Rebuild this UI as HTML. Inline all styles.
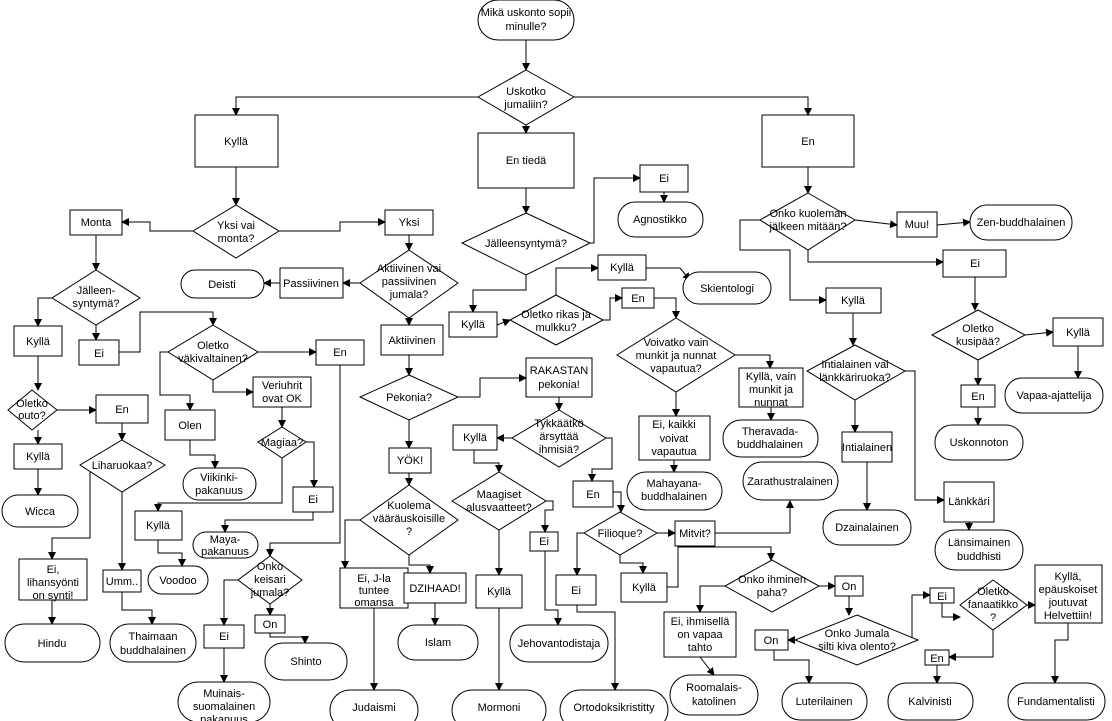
<!DOCTYPE html>
<html><head><meta charset="utf-8"><style>
html,body{margin:0;padding:0;background:#fff;}
svg{display:block;}
text{font-family:"Liberation Sans",Arial,sans-serif;font-size:11px;fill:#000;text-anchor:middle;}
.b{fill:#fff;stroke:#000;stroke-width:1;}
.l{fill:none;stroke:#000;stroke-width:1;marker-end:url(#a);}
</style></head><body>
<svg width="1112" height="721" viewBox="0 0 1112 721" xmlns="http://www.w3.org/2000/svg">
<defs><marker id="a" markerWidth="8" markerHeight="8" refX="7" refY="4" orient="auto" markerUnits="userSpaceOnUse"><path d="M0,0 L8,4 L0,8 z" fill="#000"/></marker></defs>

<!-- connectors -->
<g>
<polyline class="l" points="526,40 526,70"/>
<polyline class="l" points="478,97 236,97 236,115"/>
<polyline class="l" points="574,97 808,97 808,115"/>
<polyline class="l" points="526,125 526,133"/>
<polyline class="l" points="236,167 236,205"/>
<polyline class="l" points="193,231 150,231 150,222 122,222"/>
<polyline class="l" points="279,231 340,231 340,222 385,222"/>
<polyline class="l" points="96,235 96,270"/>
<polyline class="l" points="52,298 38,298 38,326"/>
<polyline class="l" points="96,325 96,340"/>
<polyline class="l" points="38,356 38,390"/>
<polyline class="l" points="119,352 140,352 140,312 213,312 213,325"/>
<polyline class="l" points="57,410 96,410"/>
<polyline class="l" points="38,430 38,444"/>
<polyline class="l" points="38,469 38,495"/>
<polyline class="l" points="122,423 122,440"/>
<polyline class="l" points="80,465 90,465 90,538 52,538 52,559"/>
<polyline class="l" points="122,492 122,570"/>
<polyline class="l" points="52,600 52,624"/>
<polyline class="l" points="122,592 122,610 152,610 152,624"/>
<polyline class="l" points="409,235 409,250"/>
<polyline class="l" points="360,283 343,283"/>
<polyline class="l" points="280,283 264,283"/>
<polyline class="l" points="409,318 409,325"/>
<polyline class="l" points="409,355 409,375"/>
<polyline class="l" points="458,397 480,397 480,378 526,378"/>
<polyline class="l" points="409,420 409,448"/>
<polyline class="l" points="409,473 409,485"/>
<polyline class="l" points="360,520 345,520 345,568"/>
<polyline class="l" points="409,555 409,565 430,565 430,573"/>
<polyline class="l" points="374,608 374,690"/>
<polyline class="l" points="435,603 435,625"/>
<polyline class="l" points="258,352 316,352"/>
<polyline class="l" points="168,352 160,352 160,395 190,395 190,410"/>
<polyline class="l" points="213,380 213,392 253,392"/>
<polyline class="l" points="340,365 340,543 270,543 270,556"/>
<polyline class="l" points="282,407 282,427"/>
<polyline class="l" points="306,442 314,442 314,487"/>
<polyline class="l" points="282,458 282,503 158,503 158,511"/>
<polyline class="l" points="190,440 190,455 215,455 215,468"/>
<polyline class="l" points="313,512 313,520 225,520 225,532"/>
<polyline class="l" points="158,540 158,553 182,553 182,566"/>
<polyline class="l" points="238,580 224,580 224,625"/>
<polyline class="l" points="270,604 270,615"/>
<polyline class="l" points="224,648 224,682"/>
<polyline class="l" points="270,633 270,637 305,637 305,643"/>
<polyline class="l" points="526,188 526,213"/>
<polyline class="l" points="590,243 594,243 594,178 640,178"/>
<polyline class="l" points="664,192 664,202"/>
<polyline class="l" points="526,275 526,290 473,290 473,312"/>
<polyline class="l" points="497,325 510,320"/>
<polyline class="l" points="556,295 556,268 598,268"/>
<polyline class="l" points="646,268 680,268 690,280"/>
<polyline class="l" points="603,320 610,320 610,298 622,298"/>
<polyline class="l" points="654,298 676,298 676,318"/>
<polyline class="l" points="735,355 770,355 770,368"/>
<polyline class="l" points="676,392 676,416"/>
<polyline class="l" points="771,407 771,420"/>
<polyline class="l" points="674,460 674,472"/>
<polyline class="l" points="559,397 559,410"/>
<polyline class="l" points="512,438 497,438"/>
<polyline class="l" points="474,450 474,463 499,463 499,472"/>
<polyline class="l" points="606,438 612,438 612,469 592,469 592,481"/>
<polyline class="l" points="546,501 553,501 553,510 545,510 545,532"/>
<polyline class="l" points="499,530 499,575"/>
<polyline class="l" points="545,551 545,610 558,610 558,625"/>
<polyline class="l" points="499,608 499,690"/>
<polyline class="l" points="613,492 621,492 621,512"/>
<polyline class="l" points="657,533 675,533"/>
<polyline class="l" points="584,533 577,533 577,575"/>
<polyline class="l" points="620,555 620,563 643,563 643,573"/>
<polyline class="l" points="577,605 577,612 615,612 615,690"/>
<polyline class="l" points="715,533 790,533 790,501"/>
<polyline class="l" points="667,587 678,587 678,547 771,547 771,560"/>
<polyline class="l" points="819,586 835,586"/>
<polyline class="l" points="725,586 700,586 700,612"/>
<polyline class="l" points="700,657 714,675"/>
<polyline class="l" points="849,595 849,615"/>
<polyline class="l" points="795,640 788,640"/>
<polyline class="l" points="774,650 774,660 809,660 809,683"/>
<polyline class="l" points="918,640 912,640 912,595 930,595"/>
<polyline class="l" points="942,603 942,617 960,617"/>
<polyline class="l" points="1027,605 1035,605"/>
<polyline class="l" points="993,630 993,657 949,657"/>
<polyline class="l" points="937,665 937,683"/>
<polyline class="l" points="1068,623 1068,640 1055,640 1055,683"/>
<polyline class="l" points="808,167 808,193"/>
<polyline class="l" points="855,220 897,225"/>
<polyline class="l" points="937,225 970,222"/>
<polyline class="l" points="808,250 808,262 943,262"/>
<polyline class="l" points="760,220 740,220 740,250 790,250 790,300 826,300"/>
<polyline class="l" points="853,313 853,345"/>
<polyline class="l" points="975,277 975,310"/>
<polyline class="l" points="1025,335 1053,332"/>
<polyline class="l" points="978,360 978,385"/>
<polyline class="l" points="1078,346 1078,378"/>
<polyline class="l" points="978,407 978,425"/>
<polyline class="l" points="855,400 855,432"/>
<polyline class="l" points="905,371 915,371 915,500 944,500"/>
<polyline class="l" points="867,462 867,510"/>
<polyline class="l" points="969,522 969,530"/>
</g>

<!-- terminals -->
<g>
<rect class="b" x="478" y="0" width="96" height="40" rx="20"/><text x="526" y="16">Mikä uskonto sopii</text><text x="526" y="30">minulle?</text>
<rect class="b" x="2" y="495" width="76" height="32" rx="16"/><text x="40" y="515">Wicca</text>
<rect class="b" x="5" y="624" width="95" height="38" rx="19"/><text x="52" y="647">Hindu</text>
<rect class="b" x="110" y="624" width="86" height="38" rx="19"/><text x="153" y="640">Thaimaan</text><text x="153" y="654">buddhalainen</text>
<rect class="b" x="181" y="270" width="83" height="28" rx="14"/><text x="222" y="288">Deisti</text>
<rect class="b" x="183" y="468" width="73" height="32" rx="16"/><text x="219" y="481">Viikinki-</text><text x="219" y="494">pakanuus</text>
<rect class="b" x="193" y="532" width="65" height="26" rx="13"/><text x="225" y="543">Maya-</text><text x="225" y="555">pakanuus</text>
<rect class="b" x="148" y="566" width="60" height="28" rx="14"/><text x="178" y="584">Voodoo</text>
<rect class="b" x="265" y="643" width="82" height="37" rx="18"/><text x="306" y="665">Shinto</text>
<rect class="b" x="178" y="682" width="92" height="40" rx="20"/><text x="224" y="697">Muinais-</text><text x="224" y="710">suomalainen</text><text x="224" y="723">pakanuus</text>
<rect class="b" x="330" y="690" width="88" height="40" rx="20"/><text x="374" y="711">Judaismi</text>
<rect class="b" x="398" y="625" width="80" height="35" rx="17"/><text x="438" y="646">Islam</text>
<rect class="b" x="618" y="202" width="85" height="35" rx="17"/><text x="660" y="223">Agnostikko</text>
<rect class="b" x="683" y="272" width="88" height="32" rx="16"/><text x="727" y="292">Skientologi</text>
<rect class="b" x="723" y="420" width="95" height="37" rx="18"/><text x="770" y="435">Theravada-</text><text x="770" y="448">buddhalainen</text>
<rect class="b" x="627" y="472" width="95" height="38" rx="19"/><text x="674" y="487">Mahayana-</text><text x="674" y="500">buddhalainen</text>
<rect class="b" x="452" y="690" width="94" height="40" rx="20"/><text x="499" y="711">Mormoni</text>
<rect class="b" x="510" y="625" width="98" height="37" rx="18"/><text x="559" y="647">Jehovantodistaja</text>
<rect class="b" x="560" y="690" width="108" height="40" rx="20"/><text x="614" y="711">Ortodoksikristitty</text>
<rect class="b" x="743" y="462" width="95" height="38" rx="19"/><text x="790" y="485">Zarathustralainen</text>
<rect class="b" x="970" y="205" width="102" height="35" rx="17"/><text x="1021" y="226">Zen-buddhalainen</text>
<rect class="b" x="1005" y="378" width="98" height="35" rx="17"/><text x="1054" y="399">Vapaa-ajattelija</text>
<rect class="b" x="935" y="425" width="88" height="35" rx="17"/><text x="979" y="446">Uskonnoton</text>
<rect class="b" x="823" y="510" width="88" height="35" rx="17"/><text x="867" y="531">Dzainalainen</text>
<rect class="b" x="935" y="530" width="88" height="40" rx="20"/><text x="979" y="546">Länsimainen</text><text x="979" y="560">buddhisti</text>
<rect class="b" x="670" y="675" width="88" height="40" rx="20"/><text x="714" y="691">Roomalais-</text><text x="714" y="705">katolinen</text>
<rect class="b" x="782" y="683" width="85" height="37" rx="18"/><text x="824" y="705">Luterilainen</text>
<rect class="b" x="888" y="683" width="85" height="37" rx="18"/><text x="930" y="705">Kalvinisti</text>
<rect class="b" x="1008" y="683" width="97" height="37" rx="18"/><text x="1056" y="705">Fundamentalisti</text>
</g>

<!-- boxes -->
<g>
<rect class="b" x="195" y="115" width="83" height="52"/><text x="236" y="145">Kyllä</text>
<rect class="b" x="478" y="133" width="96" height="55"/><text x="526" y="164">En tiedä</text>
<rect class="b" x="762" y="115" width="92" height="52"/><text x="808" y="145">En</text>
<rect class="b" x="70" y="210" width="52" height="25"/><text x="96" y="226">Monta</text>
<rect class="b" x="385" y="210" width="48" height="25"/><text x="409" y="226">Yksi</text>
<rect class="b" x="14" y="326" width="48" height="30"/><text x="38" y="345">Kyllä</text>
<rect class="b" x="79" y="340" width="40" height="25"/><text x="99" y="357">Ei</text>
<rect class="b" x="96" y="395" width="52" height="28"/><text x="122" y="413">En</text>
<rect class="b" x="14" y="444" width="48" height="25"/><text x="38" y="460">Kyllä</text>
<rect class="b" x="19" y="559" width="68" height="41"/><text x="53" y="573">Ei,</text><text x="53" y="586">lihansyönti</text><text x="53" y="599">on synti!</text>
<rect class="b" x="103" y="570" width="38" height="22"/><text x="122" y="585">Umm..</text>
<rect class="b" x="280" y="268" width="63" height="30"/><text x="311" y="287">Passiivinen</text>
<rect class="b" x="381" y="325" width="62" height="30"/><text x="412" y="344">Aktiivinen</text>
<rect class="b" x="389" y="448" width="42" height="25"/><text x="410" y="464">YÖK!</text>
<rect class="b" x="340" y="568" width="68" height="40"/><text x="374" y="582">Ei, J-la</text><text x="374" y="594">tuntee</text><text x="374" y="606">omansa</text>
<rect class="b" x="404" y="573" width="62" height="30"/><text x="435" y="592">DZIHAAD!</text>
<rect class="b" x="316" y="340" width="48" height="25"/><text x="340" y="356">En</text>
<rect class="b" x="165" y="410" width="50" height="30"/><text x="190" y="429">Olen</text>
<rect class="b" x="253" y="377" width="58" height="30"/><text x="282" y="389">Veriuhrit</text><text x="282" y="402">ovat OK</text>
<rect class="b" x="293" y="487" width="40" height="25"/><text x="313" y="503">Ei</text>
<rect class="b" x="135" y="511" width="47" height="29"/><text x="158" y="529">Kyllä</text>
<rect class="b" x="204" y="625" width="40" height="23"/><text x="224" y="640">Ei</text>
<rect class="b" x="255" y="615" width="30" height="18"/><text x="270" y="628">On</text>
<rect class="b" x="640" y="165" width="48" height="27"/><text x="664" y="182">Ei</text>
<rect class="b" x="449" y="312" width="48" height="25"/><text x="473" y="328">Kyllä</text>
<rect class="b" x="598" y="255" width="48" height="25"/><text x="622" y="271">Kyllä</text>
<rect class="b" x="622" y="288" width="32" height="20"/><text x="638" y="302">En</text>
<rect class="b" x="739" y="368" width="64" height="39"/><text x="771" y="380">Kyllä, vain</text><text x="771" y="393">munkit ja</text><text x="771" y="406">nunnat</text>
<rect class="b" x="639" y="416" width="71" height="44"/><text x="674" y="428">Ei, kaikki</text><text x="674" y="442">voivat</text><text x="674" y="455">vapautua</text>
<rect class="b" x="526" y="358" width="66" height="39"/><text x="559" y="374">RAKASTAN</text><text x="559" y="388">pekonia!</text>
<rect class="b" x="453" y="425" width="44" height="25"/><text x="475" y="441">Kyllä</text>
<rect class="b" x="573" y="481" width="40" height="26"/><text x="593" y="498">En</text>
<rect class="b" x="530" y="532" width="28" height="19"/><text x="544" y="545">Ei</text>
<rect class="b" x="476" y="575" width="46" height="33"/><text x="499" y="595">Kyllä</text>
<rect class="b" x="675" y="521" width="40" height="25"/><text x="695" y="537">Mitvit?</text>
<rect class="b" x="556" y="575" width="40" height="30"/><text x="576" y="594">Ei</text>
<rect class="b" x="621" y="573" width="46" height="29"/><text x="644" y="591">Kyllä</text>
<rect class="b" x="897" y="212" width="40" height="25"/><text x="917" y="228">Muu!</text>
<rect class="b" x="943" y="250" width="63" height="27"/><text x="975" y="267">Ei</text>
<rect class="b" x="826" y="288" width="55" height="25"/><text x="853" y="304">Kyllä</text>
<rect class="b" x="1053" y="318" width="50" height="28"/><text x="1078" y="336">Kyllä</text>
<rect class="b" x="961" y="385" width="34" height="22"/><text x="978" y="400">En</text>
<rect class="b" x="842" y="432" width="50" height="30"/><text x="867" y="451">Intialainen</text>
<rect class="b" x="944" y="482" width="50" height="40"/><text x="969" y="505">Länkkäri</text>
<rect class="b" x="835" y="576" width="28" height="20"/><text x="849" y="590">On</text>
<rect class="b" x="664" y="612" width="72" height="45"/><text x="700" y="625">Ei, ihmisellä</text><text x="700" y="638">on vapaa</text><text x="700" y="651">tahto</text>
<rect class="b" x="755" y="630" width="33" height="20"/><text x="771" y="644">On</text>
<rect class="b" x="930" y="588" width="24" height="15"/><text x="942" y="600">Ei</text>
<rect class="b" x="925" y="650" width="24" height="15"/><text x="937" y="662">En</text>
<rect class="b" x="1035" y="565" width="67" height="58"/><text x="1068" y="580">Kyllä,</text><text x="1068" y="593">epäuskoiset</text><text x="1068" y="606">joutuvat</text><text x="1068" y="619">Helvettiin!</text>
</g>

<!-- diamonds -->
<g>
<polygon class="b" points="526,70 574,97 526,125 478,97"/><text x="526" y="95">Uskotko</text><text x="526" y="108">jumaliin?</text>
<polygon class="b" points="236,205 279,231 236,258 193,231"/><text x="236" y="229">Yksi vai</text><text x="236" y="242">monta?</text>
<polygon class="b" points="96,270 140,298 96,325 52,298"/><text x="96" y="294">Jälleen-</text><text x="96" y="307">syntymä?</text>
<polygon class="b" points="32,390 57,410 32,430 8,410"/><text x="32" y="407">Oletko</text><text x="32" y="419">outo?</text>
<polygon class="b" points="122,440 165,465 122,492 80,465"/><text x="122" y="469">Liharuokaa?</text>
<polygon class="b" points="409,250 458,283 409,318 360,283"/><text x="409" y="272">Aktiivinen vai</text><text x="409" y="285">passiivinen</text><text x="409" y="298">jumala?</text>
<polygon class="b" points="409,375 458,397 409,420 360,397"/><text x="409" y="401">Pekonia?</text>
<polygon class="b" points="409,485 458,520 409,555 360,520"/><text x="409" y="509">Kuolema</text><text x="409" y="522">vääräuskoisille</text><text x="409" y="535">?</text>
<polygon class="b" points="213,325 258,352 213,380 168,352"/><text x="213" y="349">Oletko</text><text x="213" y="362">väkivaltainen?</text>
<polygon class="b" points="282,427 306,442 282,458 258,442"/><text x="282" y="446">Magiaa?</text>
<polygon class="b" points="270,556 302,580 270,604 238,580"/><text x="270" y="570">Onko</text><text x="270" y="583">keisari</text><text x="270" y="596">jumala?</text>
<polygon class="b" points="526,213 590,243 526,275 462,243"/><text x="526" y="247">Jälleensyntymä?</text>
<polygon class="b" points="556,295 603,320 556,345 510,320"/><text x="556" y="318">Oletko rikas ja</text><text x="556" y="331">mulkku?</text>
<polygon class="b" points="676,318 735,355 676,392 617,355"/><text x="676" y="346">Voivatko vain</text><text x="676" y="359">munkit ja nunnat</text><text x="676" y="372">vapautua?</text>
<polygon class="b" points="559,410 606,438 559,467 512,438"/><text x="559" y="427">Tykkäätkö</text><text x="559" y="440">ärsyttää</text><text x="559" y="453">ihmisiä?</text>
<polygon class="b" points="499,472 546,501 499,530 452,501"/><text x="499" y="498">Maagiset</text><text x="499" y="511">alusvaatteet?</text>
<polygon class="b" points="620,512 657,533 620,555 584,533"/><text x="620" y="537">Filioque?</text>
<polygon class="b" points="772,560 819,586 772,612 725,586"/><text x="772" y="583">Onko ihminen</text><text x="772" y="596">paha?</text>
<polygon class="b" points="857,615 918,640 857,665 795,640"/><text x="857" y="637">Onko Jumala</text><text x="857" y="650">silti kiva olento?</text>
<polygon class="b" points="993,580 1027,605 993,630 960,605"/><text x="993" y="595">Oletko</text><text x="993" y="608">fanaatikko</text><text x="993" y="621">?</text>
<polygon class="b" points="808,193 855,220 808,250 760,220"/><text x="808" y="217">Onko kuoleman</text><text x="808" y="230">jälkeen mitään?</text>
<polygon class="b" points="978,310 1025,335 978,360 932,335"/><text x="978" y="332">Oletko</text><text x="978" y="345">kusipää?</text>
<polygon class="b" points="855,345 905,371 855,400 807,371"/><text x="855" y="368">Intialainen vai</text><text x="855" y="381">länkkäriruoka?</text>
</g>
</svg>
</body></html>
